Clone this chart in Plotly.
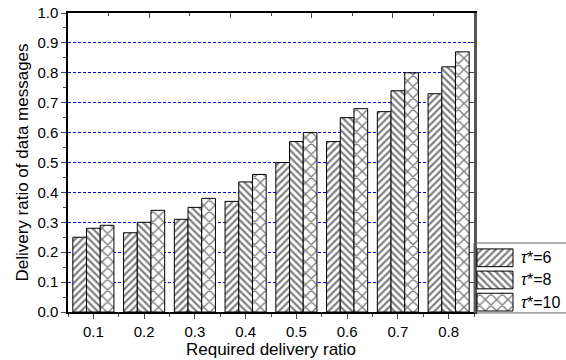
import plotly.graph_objects as go

# ---- data ----
required_ratio = [0.1, 0.2, 0.3, 0.4, 0.5, 0.6, 0.7, 0.8]
tau6 = [0.25, 0.265, 0.31, 0.37, 0.50, 0.57, 0.67, 0.73]
tau8 = [0.28, 0.30, 0.35, 0.435, 0.57, 0.65, 0.74, 0.82]
tau10 = [0.29, 0.34, 0.38, 0.46, 0.60, 0.68, 0.80, 0.87]
series_names = ["<i>τ</i>*=6", "<i>τ</i>*=8", "<i>τ</i>*=10"]
patterns = ["/", "\\", "x"]
pattern_sizes = [5, 5, 8]
pattern_solid = [0.45, 0.45, 0.32]

FONT = "Liberation Sans, Arial, sans-serif"
W, H = 566, 360
ML, MT, MB = 68, 13, 48
PLOT_RIGHT = 474
dom_end = (PLOT_RIGHT - ML) / (W - ML)

fig = go.Figure()
for vals, name, pat, ps, sol in zip([tau6, tau8, tau10], series_names, patterns, pattern_sizes, pattern_solid):
    fig.add_trace(go.Bar(
        x=required_ratio, y=vals, name=name, showlegend=False,
        marker=dict(color="white", line=dict(color="black", width=1),
                    pattern=dict(shape=pat, fgcolor="black", bgcolor="white",
                                 size=ps, solidity=sol)),
        xaxis="x", yaxis="y",
    ))

# custom legend swatches (on their own small axes)
legend_rows = [258, 280.5, 303]
for row, name, pat, ps, sol in zip(legend_rows, series_names, patterns, pattern_sizes, pattern_solid):
    fig.add_trace(go.Bar(
        y=[row], x=[36], base=[477], orientation="h", width=18, showlegend=False,
        marker=dict(color="white", line=dict(color="black", width=1),
                    pattern=dict(shape=pat, fgcolor="black", bgcolor="white",
                                 size=ps, solidity=sol)),
        xaxis="x3", yaxis="y3", hoverinfo="skip",
    ))
    fig.add_annotation(x=519, y=row, xref="x3", yref="y3", text=name,
                       showarrow=False, xanchor="left", yanchor="middle",
                       font=dict(family=FONT, size=16, color="black"))

leg_top = (MT + (H - MT - MB) - 243) / (H - MT - MB)

fig.update_layout(
    width=W, height=H,
    margin=dict(l=ML, r=0, t=MT, b=MB),
    paper_bgcolor="white", plot_bgcolor="white",
    barmode="group", bargap=0.19, bargroupgap=0,
    font=dict(family=FONT, size=13, color="black"),
    xaxis=dict(
        domain=[0, dom_end], range=[0.05, 0.85], tick0=0.1, dtick=0.1,
        tickformat=".1f", ticks="outside", ticklen=5, tickwidth=1,
        minor=dict(dtick=0.05, tick0=0.05, ticks="outside", ticklen=3, tickwidth=1, showgrid=False),
        showline=True, linecolor="black", linewidth=1.5, showgrid=False, zeroline=False,
        tickfont=dict(size=15),
        title=dict(text="Required delivery ratio", font=dict(size=17), standoff=3),
        anchor="y",
    ),
    yaxis=dict(
        range=[0, 1], dtick=0.1, tickformat=".1f", ticks="outside", ticklen=5, tickwidth=1,
        minor=dict(dtick=0.05, ticks="outside", ticklen=3, tickwidth=1, showgrid=False),
        showline=True, linecolor="black", linewidth=1.5,
        showgrid=True, gridcolor="#0000ff", griddash="3px,2px", gridwidth=1, zeroline=False,
        tickfont=dict(size=15),
        title=dict(text="Delivery ratio of data messages", font=dict(size=17), standoff=4),
        anchor="x",
    ),
    xaxis2=dict(
        overlaying="x", side="top", range=[0, 10], dtick=2, tick0=0, ticks="inside",
        ticklen=5, tickwidth=1, showticklabels=False,
        minor=dict(dtick=1, ticks="inside", ticklen=3, tickwidth=1),
        showline=True, linecolor="black", linewidth=1.5, showgrid=False, zeroline=False,
        anchor="y",
    ),
    yaxis2=dict(
        overlaying="y", side="right", range=[0, 1], dtick=0.1, ticks="inside",
        ticklen=4, tickwidth=1, showticklabels=False,
        showline=True, linecolor="#555555", linewidth=2.5, showgrid=False, zeroline=False,
        anchor="x",
    ),
    xaxis3=dict(domain=[dom_end, 1], range=[PLOT_RIGHT, W], visible=False, fixedrange=True),
    yaxis3=dict(domain=[0, leg_top], range=[313, 243], visible=False, fixedrange=True, anchor="x3"),
)

# invisible traces so overlay axes are drawn
fig.add_trace(go.Scatter(x=[None], y=[None], xaxis="x2", yaxis="y", showlegend=False, hoverinfo="skip"))
fig.add_trace(go.Scatter(x=[None], y=[None], xaxis="x", yaxis="y2", showlegend=False, hoverinfo="skip"))

# legend frame
fig.add_shape(type="rect", xref="paper", yref="paper", x0=dom_end, x1=1.02, y0=-0.003, y1=leg_top,
              line=dict(color="#666666", width=1), fillcolor="rgba(0,0,0,0)", layer="above")

fig.write_html("out.html", config={"displayModeBar": False},
               post_script="document.body.style.margin='0';document.body.style.overflow='hidden';")
